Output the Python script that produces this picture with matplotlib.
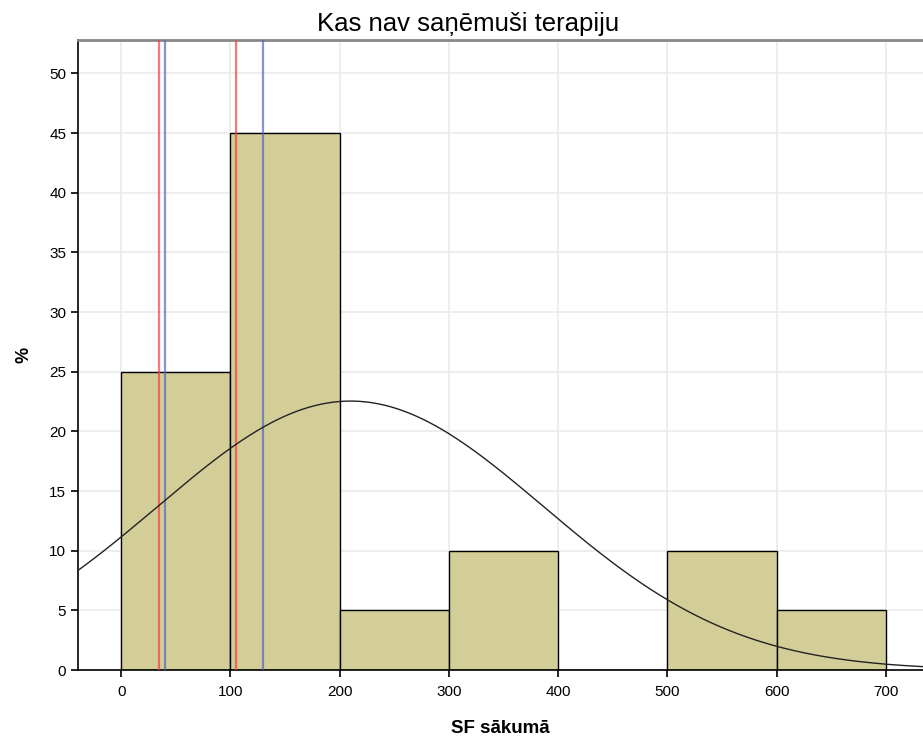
import numpy as np
import matplotlib
matplotlib.use("Agg")
import matplotlib.pyplot as plt

# ===== DATA =====
BIN_EDGES = [0, 100, 200, 300, 400, 500, 600, 700]
PERCENTS = [25, 45, 5, 10, 0, 10, 5]

# normal curve fitted by SPSS (mean, std dev), scaled to percent per bin
CURVE_MEAN = 210
CURVE_SD = 177
CURVE_N_PCT = 100  # total percent

RED_LINES = [35, 105]
BLUE_LINES = [40, 130]

TITLE = "Kas nav saņēmuši terapiju"
X_LABEL = "SF sākumā"
Y_LABEL = "%"

X_TICKS = [0, 100, 200, 300, 400, 500, 600, 700]
Y_TICKS = [0, 5, 10, 15, 20, 25, 30, 35, 40, 45, 50]

# ===== PLOT =====
plt.rcParams["font.family"] = ["Liberation Sans", "DejaVu Sans"]

fig = plt.figure(figsize=(9.23, 7.4), dpi=100)
ax = fig.add_axes([78 / 923, 70 / 740, 1 - 78 / 923, 630 / 740])

xmin, xmax = -39.5, 734
ax.set_xlim(xmin, xmax)
ax.set_ylim(0, 52.8)

ax.set_xticks(X_TICKS)
ax.set_yticks(Y_TICKS)
ax.grid(True, color="#ebebeb", linewidth=1.2, zorder=0)
ax.set_axisbelow(True)

widths = np.diff(BIN_EDGES)
ax.bar(BIN_EDGES[:-1], PERCENTS, width=widths, align="edge",
       color="#d3ce97", edgecolor="black", linewidth=1.0, zorder=2)

# normal curve
bw = BIN_EDGES[1] - BIN_EDGES[0]
xs = np.linspace(xmin, xmax, 400)
ys = CURVE_N_PCT * bw / (CURVE_SD * np.sqrt(2 * np.pi)) * np.exp(-0.5 * ((xs - CURVE_MEAN) / CURVE_SD) ** 2)
ax.plot(xs, ys, color="#222222", linewidth=1.0, zorder=4)

for v in RED_LINES:
    ax.axvline(v, color="#f04040", alpha=0.7, linewidth=1.6, zorder=3)
for v in BLUE_LINES:
    ax.axvline(v, color="#5565c0", alpha=0.7, linewidth=1.6, zorder=3)

ax.spines["right"].set_visible(False)
ax.spines["top"].set_color("#888888")
ax.spines["top"].set_linewidth(2.0)
ax.spines["left"].set_linewidth(1.2)
ax.spines["bottom"].set_linewidth(1.2)

ax.tick_params(axis="both", direction="out", length=5, width=1.2, labelsize=11)
ax.tick_params(axis="x", pad=6)

ax.set_xlabel(X_LABEL, fontsize=13.5, fontweight="bold", labelpad=15)
ax.set_ylabel(Y_LABEL, fontsize=13, fontweight="bold", labelpad=12)
fig.text(468.5 / 923, 1 - 31 / 740, TITLE, fontsize=18.5, ha="center",
         va="baseline")

fig.savefig("out.png", dpi=100)
plt.close(fig)
